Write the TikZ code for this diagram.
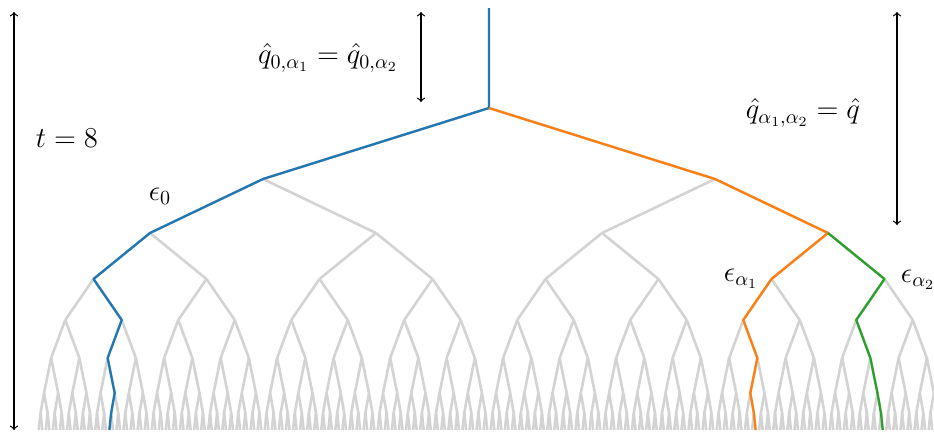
\documentclass[tikz,border=0pt]{standalone}
\usepackage{amsmath}
\definecolor{tabblue}{HTML}{1F77B4}
\definecolor{taborange}{HTML}{FF7F0E}
\definecolor{tabgreen}{HTML}{2CA02C}
\definecolor{treegrey}{HTML}{D3D3D3}
\tikzset{
  branch/.style={treegrey,line width=1.3pt,line join=round},
  walk/.style={line width=1.15pt,line join=round},
  span/.style={<->,line width=.6pt},
  lbl/.style={font=\Large,inner sep=0pt}
}
\begin{document}
\begin{tikzpicture}[x=.5pt,y=-.5pt]
  \useasboundingbox (0,0) rectangle (934,435);
  \clip (0,0) rectangle (934,435);
  % tree points
  \coordinate (top) at (489,8);
  \coordinate (n0-0) at (489,108);
  \foreach \k in {1,...,8} {
    \pgfmathparse{{108,179,233,279,320,358,393,413,430}[\k]}
    \let\yk\pgfmathresult
    \pgfmathsetmacro\dk{452/2^\k}
    \pgfmathtruncatemacro\nmax{2^\k-1}
    \foreach \i in {0,...,\nmax}
      \coordinate (n\k-\i) at ({37+(2*\i+1)*\dk},\yk);
  }
  % grey tree
  \draw[branch] (top)--(n0-0);
  \foreach \k in {1,...,8} {
    \pgfmathtruncatemacro\km{\k-1}
    \pgfmathtruncatemacro\nmax{2^\k-1}
    \foreach \i in {0,...,\nmax} {
      \pgfmathtruncatemacro\p{div(\i,2)}
      \draw[branch] (n\km-\p)--(n\k-\i);
    }
  }
  % coloured walks
  \draw[walk,tabblue] (top)--(n0-0)--(n1-0)--(n2-0)--(n3-0)--(n4-1)--(n5-2)
    --(n6-5)--(n7-10)--(n8-20);
  \draw[walk,taborange] (n0-0)--(n1-1)--(n2-3)--(n3-6)--(n4-12)--(n5-25)
    --(n6-50)--(n7-101)--(n8-203);
  \draw[walk,tabgreen] (n2-3)--(n3-7)--(n4-14)--(n5-29)--(n6-59)--(n7-119)
    --(n8-239);
  % spans
  \coordinate (ta) at (14,12);  \coordinate (tb) at (14,430);
  \coordinate (qa) at (421,12); \coordinate (qb) at (421,102);
  \coordinate (ra) at (897,12); \coordinate (rb) at (897,225);
  \draw[span] (ta)--(tb);
  \draw[span] (qa)--(qb);
  \draw[span] (ra)--(rb);
  \node[lbl] (tlab) at (67,138) {$t = 8$};
  \node[lbl] (qlab) at (328,58) {$\hat{q}_{0,\alpha_1} = \hat{q}_{0,\alpha_2}$};
  \node[lbl] (rlab) at (803,113) {$\hat{q}_{\alpha_1,\alpha_2} = \hat{q}$};
  \node[lbl] (e0) at (160,196) {$\epsilon_0$};
  \node[lbl] (e1) at (741,279) {$\epsilon_{\alpha_1}$};
  \node[lbl] (e2) at (918,280) {$\epsilon_{\alpha_2}$};
\end{tikzpicture}
\end{document}
